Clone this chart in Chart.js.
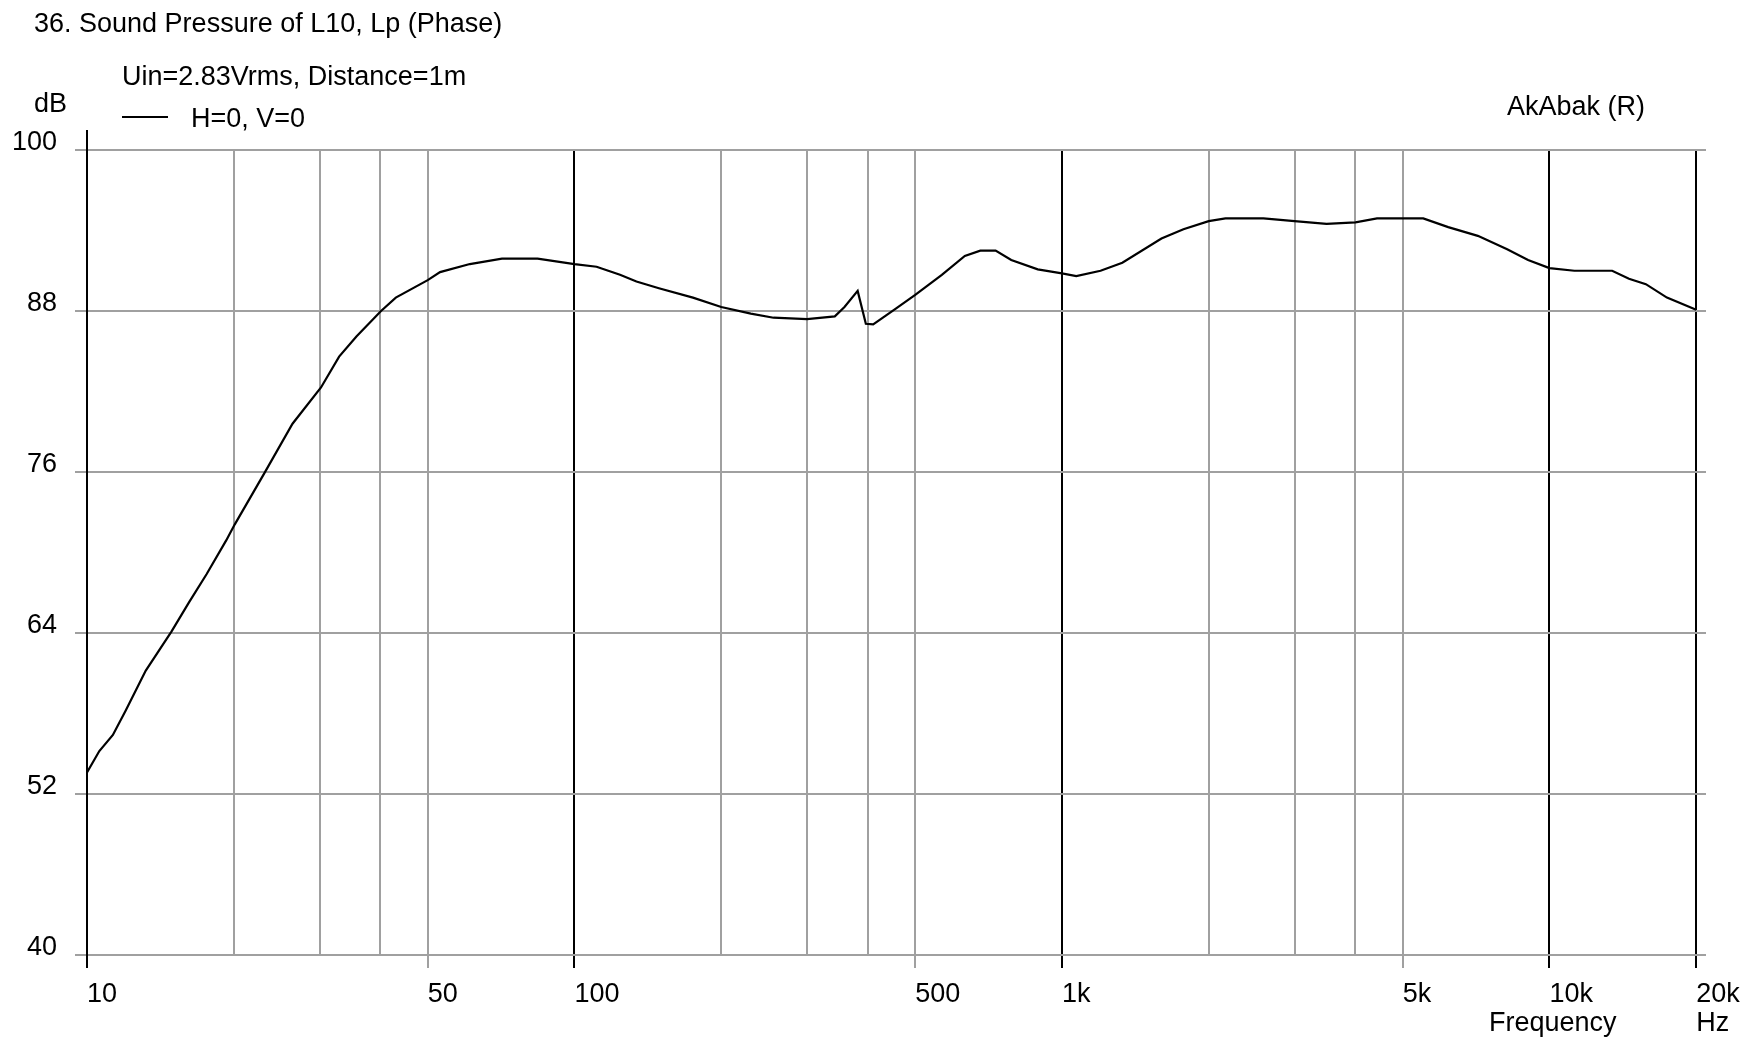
<!DOCTYPE html>
<html>
<head>
<meta charset="utf-8">
<script src="https://cdn.jsdelivr.net/npm/chart.js@4.4.1/dist/chart.umd.min.js"></script>
<style>
  body { margin: 0; background: #fff; }
  canvas { display: block; }
</style>
</head>
<body>
<canvas id="spl" width="1759" height="1043"></canvas>
<script>
// frequency (Hz) and sound pressure (dB)
const freqs = [10, 10.6, 11.3, 12.0, 13.2, 14.9, 16.2, 17.6, 19.3, 20.1, 23.1, 26.4, 30.2, 32.9, 35.7, 40.1, 43, 50, 53, 61, 71, 84,
  100, 111, 124, 134, 149, 175, 200, 230, 256, 300, 342, 358, 381, 396, 410, 457, 500, 567, 632, 680, 731, 787, 892,
  1000, 1070, 1200, 1330, 1600, 1775, 2000, 2165, 2590, 3000, 3490, 4000, 4430, 5000, 5510, 6200, 7130, 8190, 9040,
  10000, 11250, 13450, 14560, 15770, 17420, 20000];
const spl = [53.6, 55.2, 56.4, 58.2, 61.2, 64.1, 66.3, 68.4, 70.9, 72.1, 75.9, 79.6, 82.3, 84.6, 86.1, 88.0, 89.0, 90.3, 90.9, 91.5, 91.9, 91.9,
  91.5, 91.3, 90.7, 90.2, 89.7, 89.0, 88.3, 87.8, 87.5, 87.4, 87.6, 88.3, 89.5, 87.05, 87.0, 88.2, 89.2, 90.7, 92.1, 92.5, 92.5, 91.8, 91.1,
  90.8, 90.6, 91.0, 91.6, 93.4, 94.1, 94.7, 94.9, 94.9, 94.7, 94.5, 94.6, 94.9, 94.9, 94.9, 94.25, 93.6, 92.6, 91.8,
  91.2, 91.0, 91.0, 90.4, 90.0, 89.0, 88.1];

const gridFreqs = [10, 20, 30, 40, 50, 100, 200, 300, 400, 500, 1000, 2000, 3000, 4000, 5000, 10000, 20000];
const majorFreqs = [10, 100, 1000, 10000, 20000];
const labelFreqs = [10, 50, 100, 500, 1000, 5000, 10000, 20000];
const labelText = ['10', '50', '100', '500', '1k', '5k', '10k', '20k'];
const dbTicks = [40, 52, 64, 76, 88, 100];

const GRAY = '#a0a0a0';
const FONT = '27px "Liberation Sans", Arial, sans-serif';

Chart.defaults.font.family = '"Liberation Sans", Arial, sans-serif';
Chart.defaults.font.size = 27;
Chart.defaults.color = '#000';

// texts and little extras around the plot
const decorations = {
    id: 'decorations',
    afterDraw(chart) {
        const ctx = chart.ctx;
        const area = chart.chartArea;
        const xLeft = chart.scales.x.getPixelForValue(10);
        ctx.save();

        // left axis pokes out above the top grid line
        ctx.strokeStyle = '#000';
        ctx.lineWidth = 2;
        ctx.beginPath();
        ctx.moveTo(xLeft, area.top - 20);
        ctx.lineTo(xLeft, area.top);
        ctx.stroke();

        ctx.font = FONT;
        ctx.fillStyle = '#000';
        ctx.textBaseline = 'alphabetic';
        ctx.textAlign = 'left';
        ctx.fillText('36. Sound Pressure of L10, Lp (Phase)', 34, 32);
        ctx.fillText('Uin=2.83Vrms, Distance=1m', 122, 85);
        ctx.fillText('dB', 34, 112);
        ctx.fillText('AkAbak (R)', 1507, 115);
        ctx.fillText('Frequency', 1489, 1031);
        ctx.fillText('Hz', chart.scales.x.getPixelForValue(20000), 1031);

        // legend
        const ds = chart.data.datasets[0];
        ctx.strokeStyle = ds.borderColor;
        ctx.lineWidth = 2;
        ctx.beginPath();
        ctx.moveTo(122, 117);
        ctx.lineTo(168, 117);
        ctx.stroke();
        ctx.fillText(ds.label, 191, 127);
        ctx.restore();
    }
};

new Chart(document.getElementById('spl'), {
    type: 'line',
    data: {
        datasets: [{
            label: 'H=0, V=0',
            data: freqs.map((f, i) => ({ x: f, y: spl[i] })),
            borderColor: '#000',
            borderWidth: 2.2,
            pointRadius: 0,
            tension: 0,
            fill: false
        }]
    },
    options: {
        responsive: false,
        animation: false,
        layout: { padding: { left: 0, right: 53, top: 150, bottom: 0 } },
        plugins: {
            legend: { display: false },
            tooltip: { enabled: false }
        },
        scales: {
            x: {
                type: 'logarithmic',
                min: 10,
                max: 20950,
                afterBuildTicks: (scale) => {
                    scale.ticks = gridFreqs.map(v => ({ value: v }));
                },
                afterFit: (scale) => { scale.height = 88; },
                ticks: {
                    autoSkip: false,
                    maxRotation: 0,
                    align: 'start',
                    padding: 10,
                    callback: (value) => {
                        const i = labelFreqs.indexOf(value);
                        return i >= 0 ? labelText[i] : '';
                    }
                },
                grid: {
                    lineWidth: 2,
                    tickLength: 13,
                    tickWidth: 2,
                    color: (ctx) => majorFreqs.includes(ctx.tick.value) ? '#000' : GRAY,
                    tickColor: (ctx) => {
                        const v = ctx.tick.value;
                        if (!labelFreqs.includes(v)) return 'rgba(0,0,0,0)';
                        return majorFreqs.includes(v) ? '#000' : GRAY;
                    }
                },
                border: { display: false }
            },
            y: {
                min: 40,
                max: 100,
                afterBuildTicks: (scale) => {
                    scale.ticks = dbTicks.map(v => ({ value: v }));
                },
                afterFit: (scale) => { scale.width = 87; },
                ticks: {
                    padding: 18,
                    labelOffset: -7
                },
                grid: {
                    lineWidth: 2,
                    color: GRAY,
                    tickColor: GRAY,
                    tickLength: 12
                },
                border: { color: '#000', width: 2 }
            }
        }
    },
    plugins: [decorations]
});
</script>
</body>
</html>
